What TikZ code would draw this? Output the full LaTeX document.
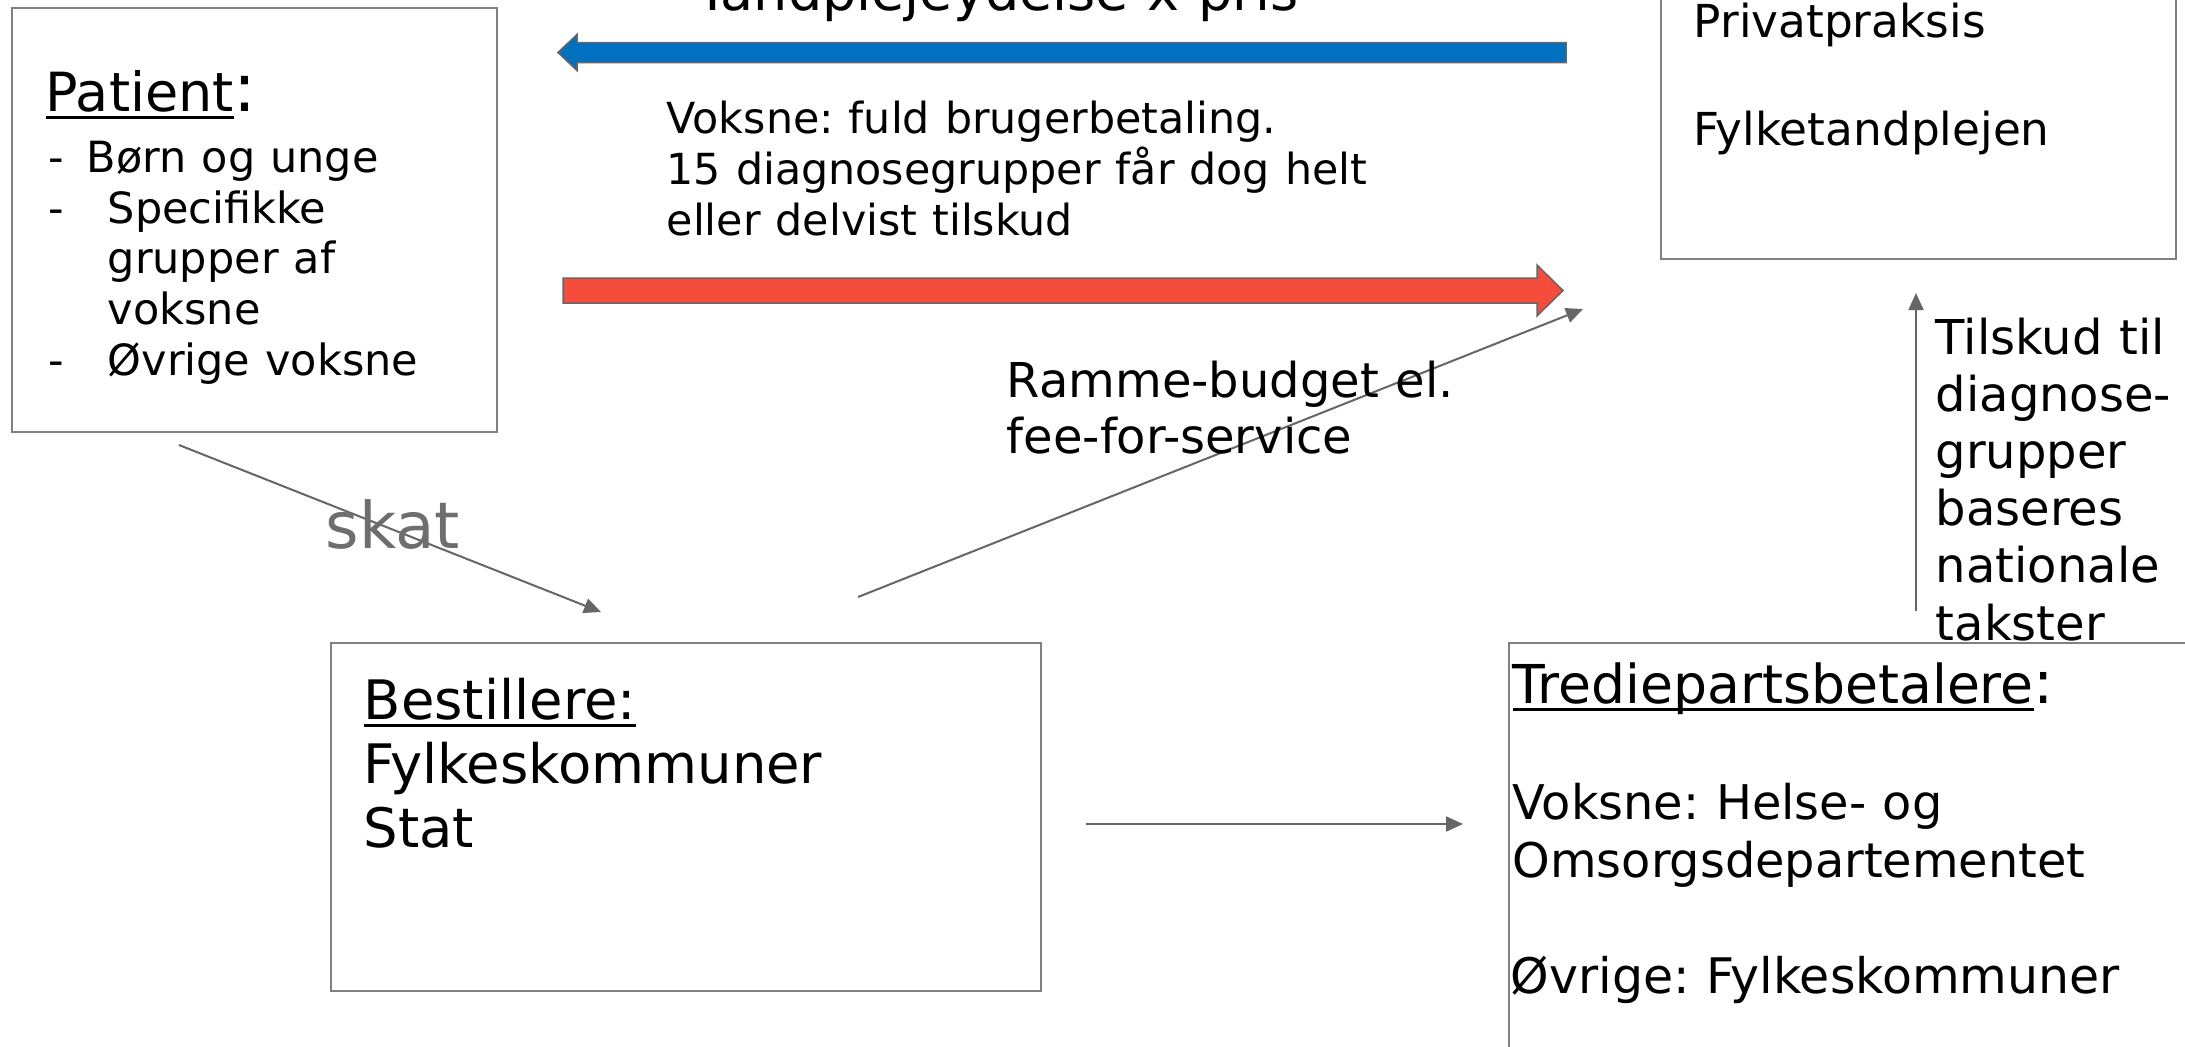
\documentclass[tikz,border=0pt]{standalone}
\usepackage{fontspec}
\setmainfont{DejaVu Sans}[WordSpace=1.1]
\frenchspacing
\usetikzlibrary{arrows.meta}

\tikzset{every picture/.style={line width=0.75pt}}
\tikzset{
box/.style={draw={rgb, 255:red, 128; green, 128; blue, 128}, line width=1pt, inner sep=0pt},
flow/.style={draw={rgb, 255:red, 102; green, 102; blue, 102}, line width=1pt, -{Triangle[length=8.5pt,width=7.5pt]}},
txt/.style={anchor=base west, inner sep=0pt, align=left},
}
\newcommand{\ulword}[1]{\setbox0\hbox{#1}\rlap{\rule[-0.14em]{\wd0}{0.055em}}\box0}

\begin{document}
\begin{tikzpicture}[x=0.5pt,y=0.5pt,yscale=-1,xscale=1]
%set diagram to the size of the slide
\fill [white] (0,0) rectangle (2185,1046);
\useasboundingbox (0,0) rectangle (2185,1046);

%Shape: Rectangle
\node (patient) [box, anchor=north west, minimum width=242.5pt, minimum height=212pt] at (11,7) {};
%Shape: Rectangle
\node (orderer) [box, anchor=north west, minimum width=355pt, minimum height=174pt] at (330,642) {};
%Shape: Rectangle
\node (provider) [box, anchor=south west, minimum width=257.5pt, minimum height=160pt] at (1660,260) {};
%Shape: Rectangle
\node (payer) [box, anchor=north west, minimum width=350pt, minimum height=210pt] at (1508,642) {};

%Left Arrow
\draw  [draw={rgb, 255:red, 102; green, 102; blue, 102}, fill={rgb, 255:red, 0; green, 112; blue, 192}, line width=0.75pt] (1566,42.5) -- (577,42.5) -- (577,34.5) -- (558,52.5) -- (577,70.5) -- (577,62.5) -- (1566,62.5) -- cycle ;
%Right Arrow
\draw  [draw={rgb, 255:red, 102; green, 102; blue, 102}, fill={rgb, 255:red, 245; green, 76; blue, 60}, line width=0.75pt] (563,278) -- (1537,278) -- (1537,265) -- (1563,290.5) -- (1537,316) -- (1537,303) -- (563,303) -- cycle ;

%Straight Lines
\coordinate (skatA) at (179,445);
\coordinate (skatB) at (601,612);
\draw [flow] (skatA) -- (skatB);
%Straight Lines
\coordinate (budgetA) at (858,597);
\coordinate (budgetB) at (1583,309);
\draw [flow] (budgetA) -- (budgetB);
%Straight Lines
\coordinate (payA) at (1086,824);
\coordinate (payB) at (1463,824);
\draw [flow] (payA) -- (payB);
%Straight Lines
\coordinate (subA) at (1916,611);
\coordinate (subB) at (1916,293);
\draw [flow] (subA) -- (subB);

% Text Node
\draw (696,10) node (price) [txt] [font=\fontsize{27}{32.4}\selectfont] {Tandplejeydelse x pris};
% Text Node
\draw (45,111) node (pattitle) [txt] [font=\fontsize{27}{32.4}\selectfont] {\ulword{Patient}{\fontsize{34}{40}\selectfont :}};
% Text Node
\draw (48,172) node (dasha) [txt] [font=\fontsize{21.5}{25.35}\selectfont] {-};
\draw (86,172) node (young) [txt] [font=\fontsize{21.5}{25.35}\selectfont] {Børn og unge};
\draw (48,223) node (dashb) [txt] [font=\fontsize{21.5}{25.35}\selectfont] {-};
\draw (107,324.5) node (groups) [txt] [font=\fontsize{21.5}{25.35}\selectfont] {Specifikke\\grupper af\\voksne};
\draw (48,375) node (dashc) [txt] [font=\fontsize{21.5}{25.35}\selectfont] {-};
\draw (107,375) node (others) [txt] [font=\fontsize{21.5}{25.35}\selectfont] {Øvrige voksne};
% Text Node
\draw (666,235) node (adults) [txt] [font=\fontsize{21.4}{25.5}\selectfont] {Voksne: fuld brugerbetaling.\\15 diagnosegrupper får dog helt\\eller delvist tilskud};
% Text Node
\draw (1006,453) node (budget) [txt] [font=\fontsize{24}{28}\selectfont] {Ramme-budget el.\\fee-for-service};
% Text Node
\draw (325,548) node (skat) [txt] [font=\fontsize{32.2}{38}\selectfont, color={rgb, 255:red, 110; green, 110; blue, 110}] {skat};
% Text Node
\draw (363,847) node (ordertxt) [txt] [font=\fontsize{27.2}{32}\selectfont] {\ulword{Bestillere:}\\Fylkeskommuner\\Stat};
% Text Node
\draw (1693,37) node (private) [txt] [font=\fontsize{22.7}{27}\selectfont] {Privatpraksis};
\draw (1693,145) node (county) [txt] [font=\fontsize{22.7}{27}\selectfont] {Fylketandplejen};
% Text Node
\draw (1935,640) node (subsidy) [txt] [font=\fontsize{24}{28.6}\selectfont] {Tilskud til\\diagnose-\\grupper\\baseres\\nationale\\takster};
% Text Node
\draw (1512,703) node (payhead) [txt] [font=\fontsize{26.8}{31.7}\selectfont] {\ulword{Trediepartsbetalere}{\fontsize{30}{36}\selectfont :}};
\draw (1512,877) node (adultpay) [txt] [font=\fontsize{23.9}{28.75}\selectfont] {Voksne: Helse- og\\Omsorgsdepartementet};
\draw (1510,993) node (otherpay) [txt] [font=\fontsize{24.5}{29.4}\selectfont] {Øvrige: Fylkeskommuner};

\end{tikzpicture}
\end{document}
